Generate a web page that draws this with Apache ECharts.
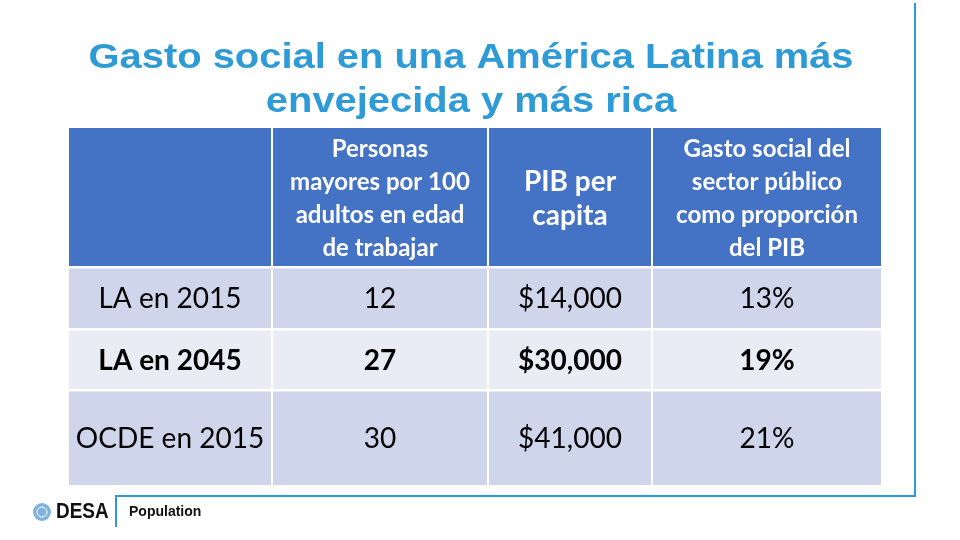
<!DOCTYPE html>
<html>
<head>
<meta charset="utf-8">
<script src="https://cdn.jsdelivr.net/npm/echarts@6/dist/echarts.min.js"></script>
<style>html,body{margin:0;padding:0;background:#fff;}#main{width:960px;height:540px;}</style>
</head>
<body>
<div id="main"></div>
<script>
// ---- data ----
const titleLines = ['Gasto social en una América Latina más', 'envejecida y más rica'];
const columnHeaders = [
  '',
  'Personas\nmayores por 100\nadultos en edad\nde trabajar',
  'PIB per\ncapita',
  'Gasto social del\nsector público\ncomo proporción\ndel PIB'
];
const rowLabels = ['LA en 2015', 'LA en 2045', 'OCDE en 2015'];
const oldAgeRatio = [12, 27, 30];          // personas mayores por 100 adultos
const gdpPerCapita = [14000, 30000, 41000]; // PIB per cápita (USD)
const socialSpendingPct = [13, 19, 21];     // gasto social, % del PIB
const boldRows = [false, true, false];
const footerBrand = 'DESA';
const footerSection = 'Population';

// ---- layout (table geometry in axis units, styles) ----
const colEdges = [0, 203, 419, 583, 812];
const rowEdges = [0, 139, 201, 262, 357];
const headerFontSizes = [24, 24, 28, 24];
const headerLineHeights = [33, 33, 34, 33];

const fmtMoney = v => '$' + v.toLocaleString('en-US');
const fmtPct = v => v + '%';

// build cells
const cells = [];
columnHeaders.forEach((h, c) => cells.push({ col: c, row: 0, text: h, header: true, bold: true }));
rowLabels.forEach((lab, i) => {
  const r = i + 1;
  cells.push({ col: 0, row: r, text: lab, bold: boldRows[i] });
  cells.push({ col: 1, row: r, text: String(oldAgeRatio[i]), bold: boldRows[i] });
  cells.push({ col: 2, row: r, text: fmtMoney(gdpPerCapita[i]), bold: boldRows[i] });
  cells.push({ col: 3, row: r, text: fmtPct(socialSpendingPct[i]), bold: boldRows[i] });
});

const rowFill = ['#4472C4', '#CFD5EA', '#E9EBF5', '#CFD5EA'];
const FONT = 'Lato, "Open Sans", sans-serif';
const TITLE_FONT = '"Liberation Sans", Arial, sans-serif';
const TITLE_COLOR = '#2E9AD6';

const chart = echarts.init(document.getElementById('main'), null, { renderer: 'canvas' });
chart.setOption({
  backgroundColor: '#ffffff',
  animation: false,
  grid: { left: 69, right: 79, top: 128, bottom: 55 },
  xAxis: { type: 'value', min: 0, max: 812, show: false },
  yAxis: { type: 'value', min: 0, max: 357, inverse: true, show: false },
  series: [{
    type: 'custom',
    data: cells.map(c => [c.col, c.row]),
    renderItem: function (params, api) {
      const cell = cells[params.dataIndex];
      const c = api.value(0), r = api.value(1);
      const p0 = api.coord([colEdges[c], rowEdges[r]]);
      const p1 = api.coord([colEdges[c + 1], rowEdges[r + 1]]);
      const gap = 1;
      const x = p0[0] + (c > 0 ? gap : 0);
      const y = p0[1] + (r > 0 ? gap + 0.5 : 0);
      const w = p1[0] - p0[0] - (c > 0 ? gap : 0) - (c < 3 ? gap : 0);
      const h = p1[1] - p0[1] - (r > 0 ? gap + 0.5 : 0) - (r < 3 ? gap : 0);
      return {
        type: 'group',
        children: [
          { type: 'rect', shape: { x: x, y: y, width: w, height: h }, style: { fill: rowFill[r] } },
          {
            type: 'text',
            x: x + w / 2, y: y + h / 2 + (cell.header ? 2 : 1),
            style: {
              text: cell.text,
              align: 'center', verticalAlign: 'middle',
              fontFamily: FONT,
              fontSize: cell.header ? headerFontSizes[c] : 28,
              lineHeight: cell.header ? headerLineHeights[c] : 33,
              fontWeight: cell.bold ? 'bold' : 'normal',
              fill: cell.header ? '#ffffff' : '#000000'
            }
          }
        ]
      };
    }
  }],
  graphic: [
    { type: 'text', x: 471, y: 58, scaleX: 1.14, originX: 0, style: { text: titleLines[0], align: 'center', verticalAlign: 'middle', fontFamily: TITLE_FONT, fontWeight: 'bold', fontSize: 35, fill: TITLE_COLOR } },
    { type: 'text', x: 471, y: 102, scaleX: 1.14, originX: 0, style: { text: titleLines[1], align: 'center', verticalAlign: 'middle', fontFamily: TITLE_FONT, fontWeight: 'bold', fontSize: 35, fill: TITLE_COLOR } },
    { type: 'polyline', shape: { points: [[915, 3], [915, 496], [116, 496], [116, 527]] },
      style: { stroke: TITLE_COLOR, lineWidth: 2, fill: null } },
    { type: 'circle', shape: { cx: 42, cy: 512, r: 9 }, style: { fill: '#7FB2E0' } },
    { type: 'circle', shape: { cx: 42, cy: 512, r: 5 }, style: { fill: null, stroke: '#ffffff', lineWidth: 1 } },
    { type: 'text', x: 56, y: 512, scaleX: 0.86, style: { text: footerBrand, fontFamily: TITLE_FONT, fontWeight: 'bold', fontSize: 22, fill: '#111111', verticalAlign: 'middle' } },
    { type: 'text', x: 129, y: 512, style: { text: footerSection, fontFamily: TITLE_FONT, fontWeight: 'bold', fontSize: 14, fill: '#111111', verticalAlign: 'middle' } }
  ]
});
</script>
</body>
</html>
